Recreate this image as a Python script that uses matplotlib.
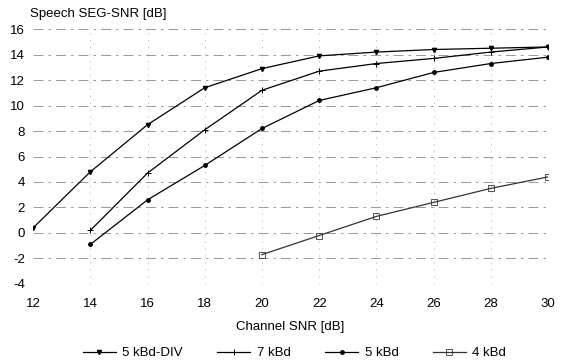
import matplotlib
matplotlib.use("Agg")
import matplotlib.pyplot as plt

plt.rcParams['font.family'] = ['Liberation Sans', 'DejaVu Sans']
plt.rcParams['axes.unicode_minus'] = False

channel_snr = [12, 14, 16, 18, 20, 22, 24, 26, 28, 30]

snr_5kbd_div = [0.4, 4.8, 8.5, 11.4, 12.9, 13.9, 14.2, 14.4, 14.5, 14.6]
x_7kbd = [14, 16, 18, 20, 22, 24, 26, 28, 30]
snr_7kbd = [0.2, 4.7, 8.1, 11.2, 12.7, 13.3, 13.7, 14.2, 14.6]
x_5kbd = [14, 16, 18, 20, 22, 24, 26, 28, 30]
snr_5kbd = [-0.9, 2.6, 5.3, 8.2, 10.4, 11.4, 12.6, 13.3, 13.8]
x_4kbd = [20, 22, 24, 26, 28, 30]
snr_4kbd = [-1.7, -0.2, 1.3, 2.4, 3.5, 4.4]

xticks = [12, 14, 16, 18, 20, 22, 24, 26, 28, 30]
yticks = [-4, -2, 0, 2, 4, 6, 8, 10, 12, 14, 16]

fig = plt.figure(figsize=(5.61, 3.64), dpi=100)
ax = fig.add_axes([0.059, 0.22, 0.918, 0.70])

ax.plot(channel_snr, snr_5kbd_div, color='black', linewidth=0.9,
        marker='v', markersize=3, label='5 kBd-DIV')
ax.plot(x_7kbd, snr_7kbd, color='black', linewidth=0.9,
        marker='+', markersize=4, markeredgewidth=0.7, label='7 kBd')
ax.plot(x_5kbd, snr_5kbd, color='black', linewidth=0.9,
        marker='o', markersize=2.5, label='5 kBd')
ax.plot(x_4kbd, snr_4kbd, color='#333333', linewidth=0.9,
        marker='s', markersize=5, markerfacecolor='none', markeredgewidth=0.6,
        label='4 kBd')

ax.set_xlim(12, 30)
ax.set_ylim(-4, 16)
ax.set_xticks(xticks)
ax.set_yticks(yticks)
ax.tick_params(length=0, labelsize=9.5)
ax.tick_params(axis='x', pad=10)
ax.tick_params(axis='y', pad=6)

for y in yticks:
    ax.axhline(y, color='#888888', linewidth=0.6, linestyle=(0, (12, 6, 3, 6)), zorder=0)
for x in xticks[1:]:
    ax.axvline(x, color='#aaaaaa', linewidth=0.5, linestyle=(0, (2, 8)), zorder=0)

for s in ax.spines.values():
    s.set_visible(False)

ax.set_xlabel('Channel SNR [dB]', fontsize=9.5, labelpad=8)
fig.text(0.053, 0.945, 'Speech SEG-SNR [dB]', fontsize=9.5, ha='left', va='bottom')

fig.legend(loc='lower center', bbox_to_anchor=(0.525, -0.02), ncol=4, frameon=False,
           fontsize=9.5, handlelength=2.5, columnspacing=2.6, handletextpad=0.5)

fig.savefig('out.png', dpi=100, facecolor='white')
